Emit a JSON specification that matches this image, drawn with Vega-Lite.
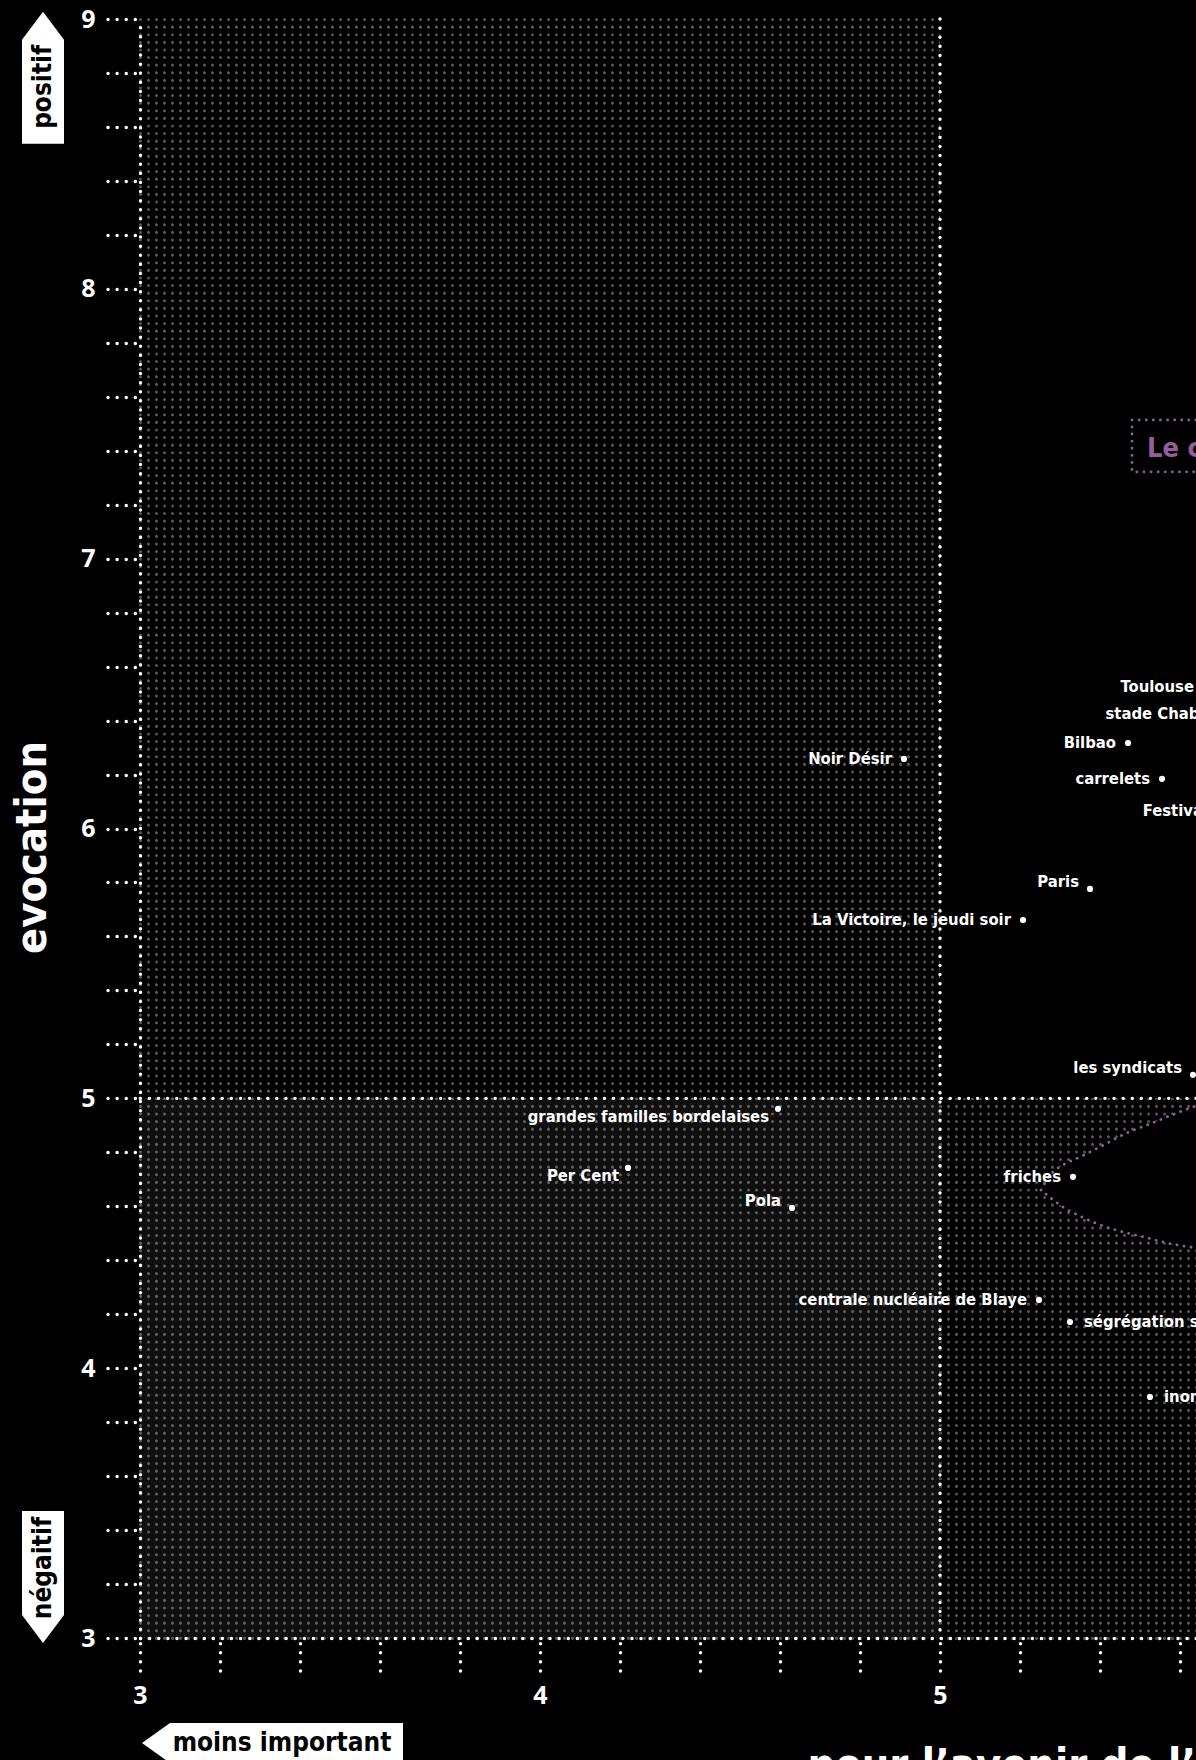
{
  "$schema": "https://vega.github.io/schema/vega-lite/v6.json",
  "width": 1056,
  "height": 1619,
  "autosize": {"type": "none"},
  "padding": {"left": 140, "top": 19, "right": 0, "bottom": 122},
  "background": "#000000",
  "config": {
    "view": {"stroke": null},
    "axis": {
      "grid": false,
      "domainColor": "#ffffff", "domainDash": [0.1, 9], "domainCap": "round", "domainWidth": 3.4,
      "tickColor": "#ffffff", "tickDash": [0.1, 9], "tickCap": "round", "tickWidth": 3.4, "tickSize": 33, "tickDashOffset": 4,
      "tickMinStep": 0.01,
      "labelColor": "#ffffff", "labelFont": "Open Sans", "labelFontSize": 25, "labelFontWeight": "bold", "labelPadding": 12,
      "labelOverlap": false, "labelFlush": false,
      "titleColor": "#ffffff", "titleFont": "DejaVu Sans Condensed, Roboto, sans-serif", "titleFontSize": 43, "titleFontWeight": "bold",
      "zindex": 1
    }
  },
  "resolve": {"scale": {"x": "independent"}, "axis": {"x": "independent"}},
  "layer": [
    {
      "data": {"values": [{"x": 3}]},
      "mark": {"type": "point", "opacity": 0},
      "encoding": {
        "x": {"field": "x", "type": "quantitative",
          "scale": {"domain": [3, 5.64], "nice": false, "zero": false},
          "axis": {"orient": "top", "domain": false, "ticks": false, "labels": false, "title": null,
                   "grid": true, "gridColor": "#575757", "gridOpacity": 1, "gridWidth": 3, "gridDash": [0.1, 7.5], "gridCap": "round",
                   "tickCount": 132, "zindex": 0}}
      }
    },
    {
      "layer": [
        {
          "data": {"values": [
            {"zone": "positif, plus important", "x": 5, "x2": 6.5, "y": 5, "y2": 9.1},
            {"zone": "négatif, moins important", "x": 3, "x2": 5, "y": 3, "y2": 5}
          ]},
          "mark": {"type": "rect"},
          "encoding": {
            "x": {"field": "x", "type": "quantitative",
              "scale": {"domain": [3, 5.64], "nice": false, "zero": false},
              "axis": {
                "values": [3, 3.2, 3.4, 3.6, 3.8, 4, 4.2, 4.4, 4.6, 4.8, 5, 5.2, 5.4, 5.6],
                "tickMinStep": 0.01,
                "labelExpr": "datum.value == round(datum.value) ? format(datum.value, 'd') : ''",
                "title": "pour l’avenir de l’agglomération",
                "titleX": 667, "titleY": 140, "titleAlign": "left", "titleBaseline": "alphabetic"
              }},
            "x2": {"field": "x2"},
            "y": {"field": "y", "type": "quantitative",
              "scale": {"domain": [3, 9], "nice": false, "zero": false},
              "axis": {
                "values": [3, 3.2, 3.4, 3.6, 3.8, 4, 4.2, 4.4, 4.6, 4.8, 5, 5.2, 5.4, 5.6, 5.8, 6, 6.2, 6.4, 6.6, 6.8, 7, 7.2, 7.4, 7.6, 7.8, 8, 8.2, 8.4, 8.6, 8.8, 9],
                "tickMinStep": 0.01,
                "labelExpr": "datum.value == round(datum.value) ? format(datum.value, 'd') : ''",
                "title": "evocation",
                "titleX": -95, "titleY": 828, "titleAngle": 270, "titleAlign": "center", "titleBaseline": "alphabetic"
              }},
            "y2": {"field": "y2"},
            "color": {"field": "zone", "type": "nominal", "legend": null,
              "scale": {"domain": ["positif, plus important", "négatif, moins important"],
                        "range": ["#000000", "#ffffff"]}},
            "opacity": {"field": "zone", "type": "nominal", "legend": null,
              "scale": {"domain": ["positif, plus important", "négatif, moins important"],
                        "range": [1, 0.06]}}
          }
        },
        {
          "data": {"values": [
            {"x": 5.2525, "top": 4.660, "bottom": 4.660},
            {"x": 5.28, "top": 4.7235, "bottom": 4.627},
            {"x": 5.3075, "top": 4.753, "bottom": 4.597},
            {"x": 5.35, "top": 4.783, "bottom": 4.564},
            {"x": 5.40, "top": 4.820, "bottom": 4.531},
            {"x": 5.4675, "top": 4.872, "bottom": 4.501},
            {"x": 5.5175, "top": 4.901, "bottom": 4.483},
            {"x": 5.5675, "top": 4.931, "bottom": 4.464},
            {"x": 5.625, "top": 4.964, "bottom": 4.449},
            {"x": 5.725, "top": 5.013, "bottom": 4.431}
          ]},
          "mark": {"type": "area", "interpolate": "monotone", "fill": "#000000", "fillOpacity": 1,
                   "stroke": "#925e9b", "strokeWidth": 2.8, "strokeDash": [0.1, 7], "strokeCap": "round"},
          "encoding": {
            "x": {"field": "x", "type": "quantitative"},
            "y": {"field": "top", "type": "quantitative"},
            "y2": {"field": "bottom"}
          }
        },
        {
          "data": {"values": [{"x": 5}]},
          "mark": {"type": "rule", "color": "#ffffff", "strokeWidth": 3.4, "strokeDash": [0.1, 9], "strokeCap": "round"},
          "encoding": {"x": {"field": "x", "type": "quantitative"}}
        },
        {
          "data": {"values": [{"y": 5}]},
          "mark": {"type": "rule", "color": "#ffffff", "strokeWidth": 3.4, "strokeDash": [0.1, 9], "strokeCap": "round"},
          "encoding": {"y": {"field": "y", "type": "quantitative"}}
        },
        {
          "data": {"values": [{"x": 5.48, "x2": 6.3, "y": 7.322, "y2": 7.514, "text": "Le cœur de l’agglomération", "tx": 5.5175, "ty": 7.377}]},
          "layer": [
            {
              "mark": {"type": "rect", "fill": null, "fillOpacity": 0, "stroke": "#925e9b", "strokeWidth": 2.8, "strokeDash": [0.1, 7], "strokeCap": "round"},
              "encoding": {
                "x": {"field": "x", "type": "quantitative"}, "x2": {"field": "x2"},
                "y": {"field": "y", "type": "quantitative"}, "y2": {"field": "y2"}
              }
            },
            {
              "mark": {"type": "text", "align": "left", "baseline": "alphabetic", "font": "DejaVu Sans Condensed, Roboto, sans-serif", "fontSize": 27, "fontWeight": "bold", "color": "#925e9b"},
              "encoding": {
                "x": {"field": "tx", "type": "quantitative"},
                "y": {"field": "ty", "type": "quantitative"},
                "text": {"field": "text"}
              }
            }
          ]
        },
        {
          "data": {"name": "pts", "values": [
            {"label": "Noir Désir", "x": 4.91, "y": 6.258, "pos": "L"},
            {"label": "La Victoire, le jeudi soir", "x": 5.2075, "y": 5.661, "pos": "L"},
            {"label": "Paris", "x": 5.375, "y": 5.776, "pos": "LU"},
            {"label": "Bilbao", "x": 5.47, "y": 6.317, "pos": "L"},
            {"label": "carrelets", "x": 5.555, "y": 6.184, "pos": "L"},
            {"label": "Toulouse", "x": 5.665, "y": 6.525, "pos": "L"},
            {"label": "stade Chaban-Delmas", "x": 5.9, "y": 6.425, "pos": "L"},
            {"label": "Festival", "x": 5.70, "y": 6.065, "pos": "L"},
            {"label": "les syndicats", "x": 5.6325, "y": 5.087, "pos": "LU"},
            {"label": "grandes familles bordelaises", "x": 4.595, "y": 4.961, "pos": "LD"},
            {"label": "Per Cent", "x": 4.22, "y": 4.742, "pos": "LD"},
            {"label": "Pola", "x": 4.63, "y": 4.594, "pos": "LU"},
            {"label": "friches", "x": 5.3325, "y": 4.709, "pos": "L"},
            {"label": "centrale nucléaire de Blaye", "x": 5.2475, "y": 4.253, "pos": "L"},
            {"label": "ségrégation sociale", "x": 5.325, "y": 4.171, "pos": "R"},
            {"label": "inondations", "x": 5.525, "y": 3.893, "pos": "R"}
          ]},
          "layer": [
            {
              "mark": {"type": "point", "shape": "circle", "filled": true, "fill": "#ffffff", "opacity": 1, "size": 38, "strokeWidth": 0},
              "encoding": {
                "x": {"field": "x", "type": "quantitative"},
                "y": {"field": "y", "type": "quantitative"}
              }
            },
            {
              "transform": [{"filter": "datum.pos == 'L'"}],
              "mark": {"type": "text", "align": "right", "baseline": "middle", "dx": -12, "font": "DejaVu Sans Condensed, Roboto, sans-serif", "fontSize": 16.5, "fontWeight": "bold", "color": "#ffffff"},
              "encoding": {
                "x": {"field": "x", "type": "quantitative"},
                "y": {"field": "y", "type": "quantitative"},
                "text": {"field": "label"}
              }
            },
            {
              "transform": [{"filter": "datum.pos == 'LU'"}],
              "mark": {"type": "text", "align": "right", "baseline": "middle", "dx": -11, "dy": -7, "font": "DejaVu Sans Condensed, Roboto, sans-serif", "fontSize": 16.5, "fontWeight": "bold", "color": "#ffffff"},
              "encoding": {
                "x": {"field": "x", "type": "quantitative"},
                "y": {"field": "y", "type": "quantitative"},
                "text": {"field": "label"}
              }
            },
            {
              "transform": [{"filter": "datum.pos == 'LD'"}],
              "mark": {"type": "text", "align": "right", "baseline": "middle", "dx": -9, "dy": 8, "font": "DejaVu Sans Condensed, Roboto, sans-serif", "fontSize": 16.5, "fontWeight": "bold", "color": "#ffffff"},
              "encoding": {
                "x": {"field": "x", "type": "quantitative"},
                "y": {"field": "y", "type": "quantitative"},
                "text": {"field": "label"}
              }
            },
            {
              "transform": [{"filter": "datum.pos == 'R'"}],
              "mark": {"type": "text", "align": "left", "baseline": "middle", "dx": 14, "font": "DejaVu Sans Condensed, Roboto, sans-serif", "fontSize": 16.5, "fontWeight": "bold", "color": "#ffffff"},
              "encoding": {
                "x": {"field": "x", "type": "quantitative"},
                "y": {"field": "y", "type": "quantitative"},
                "text": {"field": "label"}
              }
            }
          ]
        },
        {
          "data": {"values": [{"x": 2.7575, "y": 8.782}]},
          "mark": {"type": "point", "shape": "M-21,-38L0,-66L21,-38L21,66L-21,66Z", "filled": true, "fill": "#ffffff", "opacity": 1, "size": 4, "strokeWidth": 0},
          "encoding": {"x": {"field": "x", "type": "quantitative"}, "y": {"field": "y", "type": "quantitative"}}
        },
        {
          "data": {"values": [{"x": 2.7575, "y": 3.289}]},
          "mark": {"type": "point", "shape": "M-21,-49L21,-49L21,55L0,83L-21,55Z", "filled": true, "fill": "#ffffff", "opacity": 1, "size": 4, "strokeWidth": 0},
          "encoding": {"x": {"field": "x", "type": "quantitative"}, "y": {"field": "y", "type": "quantitative"}}
        },
        {
          "data": {"values": [{"x": 3.325, "y": 2.6108}]},
          "mark": {"type": "point", "shape": "M-128,0L-100,-20L133,-20L133,20L-100,20Z", "filled": true, "fill": "#ffffff", "opacity": 1, "size": 4, "strokeWidth": 0},
          "encoding": {"x": {"field": "x", "type": "quantitative"}, "y": {"field": "y", "type": "quantitative"}}
        },
        {
          "data": {"values": [
            {"text": "positif", "x": 2.7775, "y": 8.7487},
            {"text": "négaitif", "x": 2.7775, "y": 3.2594}
          ]},
          "mark": {"type": "text", "angle": 270, "align": "center", "baseline": "alphabetic", "font": "DejaVu Sans Condensed, Roboto, sans-serif", "fontSize": 26, "fontWeight": "bold", "color": "#000000"},
          "encoding": {"x": {"field": "x", "type": "quantitative"}, "y": {"field": "y", "type": "quantitative"}, "text": {"field": "text"}}
        },
        {
          "data": {"values": [{"text": "moins important", "x": 3.355, "y": 2.5812}]},
          "mark": {"type": "text", "align": "center", "baseline": "alphabetic", "font": "DejaVu Sans Condensed, Roboto, sans-serif", "fontSize": 26, "fontWeight": "bold", "color": "#000000"},
          "encoding": {"x": {"field": "x", "type": "quantitative"}, "y": {"field": "y", "type": "quantitative"}, "text": {"field": "text"}}
        }
      ]
    }
  ]
}
